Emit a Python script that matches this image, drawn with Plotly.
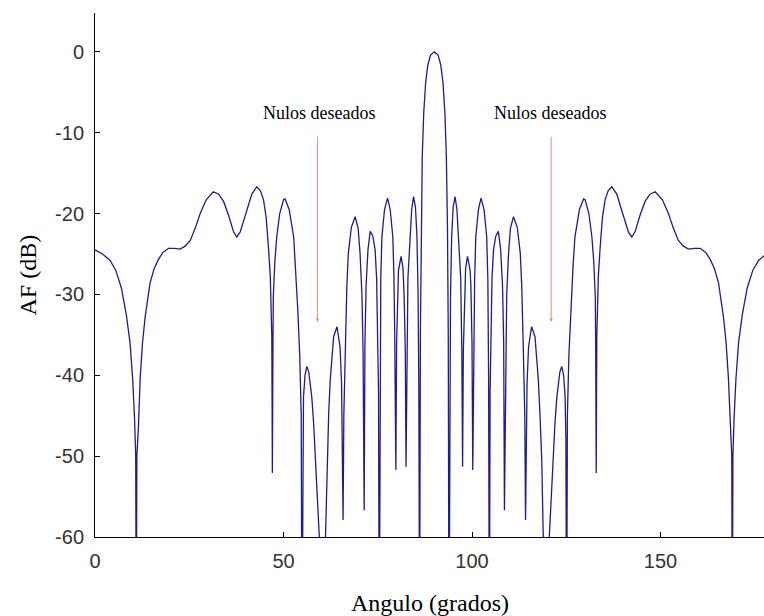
import plotly.graph_objects as go

# Angle (degrees) and array factor (dB)
angle = [0.0, 2.0, 4.0, 5.5, 7.0, 8.3, 9.3, 10.0, 10.5, 10.8, 10.95, 11.1, 11.5, 12.0, 12.6,
         13.3, 14.6, 15.7, 16.8, 18.0, 19.5, 21.0, 22.6, 24.0, 25.3, 26.6, 27.9, 29.5, 31.4,
         32.8, 34.1, 35.5, 36.7, 37.6, 38.5, 39.4, 40.3, 41.6, 42.9, 43.9, 44.7, 45.4, 46.0,
         46.5, 46.9, 47.05, 47.2, 47.3, 47.7, 48.2, 49.0, 50.0, 50.4, 51.5, 52.7, 53.2, 53.8,
         54.3, 54.7, 54.9, 55.1, 55.3, 55.7, 56.2, 56.7, 57.5, 58.0, 58.4, 58.9, 59.5, 60.3,
         61.1, 61.5, 62.0, 62.4, 63.3, 64.2, 65.0, 65.4, 65.6, 65.8, 66.0, 66.4, 66.8, 67.2,
         68.0, 69.0, 69.8, 70.3, 70.8, 71.1, 71.4, 71.6, 71.9, 72.4, 73.0, 73.7, 74.3, 74.7,
         75.0, 75.2, 75.4, 75.6, 75.8, 76.1, 76.8, 77.6, 78.3, 79.0, 79.3, 79.5, 79.8, 80.0,
         80.3, 80.5, 81.2, 81.7, 82.0, 82.3, 82.5, 82.7, 83.0, 83.6, 84.0, 84.5, 85.0, 85.4,
         85.7, 85.9, 86.1, 86.3, 86.5, 86.8, 87.2, 87.7, 88.3, 89.0, 90.0,
         91.0, 91.7, 92.3, 92.8, 93.2, 93.5, 93.7, 93.9, 94.1, 94.3, 94.6, 95.0, 95.5, 96.0,
         96.4, 97.0, 97.3, 97.5, 97.7, 98.0, 98.3, 98.8, 99.5, 99.7, 100.0, 100.2, 100.5,
         100.7, 101.0, 101.7, 102.4, 103.2, 103.9, 104.2, 104.4, 104.6, 104.8, 105.0, 105.3,
         105.7, 106.3, 107.0, 107.6, 108.1, 108.4, 108.6, 108.9, 109.2, 109.7, 110.2, 111.0,
         112.0, 112.8, 113.2, 113.6, 114.0, 114.2, 114.4, 114.6, 115.0, 115.8, 116.7, 117.6,
         118.0, 118.5, 118.9, 119.7, 120.5, 121.1, 121.6, 122.0, 122.5, 123.3, 123.8, 124.3,
         124.7, 124.9, 125.1, 125.3, 125.7, 126.2, 126.8, 127.3, 128.5, 129.6, 130.0, 131.0,
         131.8, 132.3, 132.7, 132.8, 132.95, 133.1, 133.5, 134.0, 134.6, 135.3, 136.1, 137.1,
         138.4, 139.7, 140.6, 141.5, 142.4, 143.3, 144.5, 145.9, 147.2, 148.6, 150.5, 152.1,
         153.4, 154.7, 156.0, 157.4, 159.0, 160.5, 162.0, 163.2, 164.3, 165.4, 166.7, 167.4,
         168.0, 168.5, 168.9, 169.05, 169.2, 169.5, 170.0, 170.7, 171.7, 173.0, 174.5, 176.0,
         178.0, 180.0]

af_db = [-24.5, -25.0, -25.8, -27.0, -29.2, -32.5, -36.0, -40.5, -45.5, -50.0, -75.0, -50.0, -46.6,
         -40.2, -36.0, -32.8, -28.6, -26.8, -25.7, -24.8, -24.3, -24.3, -24.4, -24.0, -23.3, -21.8,
         -20.0, -18.3, -17.3, -17.6, -18.5, -20.3, -22.2, -22.9, -22.3, -21.0, -19.6, -17.6, -16.7,
         -17.2, -18.3, -20.5, -24.1, -27.8, -35.2, -52.1, -36.0, -30.3, -26.0, -22.9, -20.0, -18.3,
         -18.2, -19.5, -22.9, -26.5, -32.0, -37.5, -45.0, -75.0, -48.0, -42.7, -40.0, -38.9, -39.6,
         -42.7, -46.0, -49.7, -54.0, -60.0, -75.0, -60.0, -50.5, -44.5, -40.6, -35.2, -34.0, -36.5,
         -41.0, -47.0, -57.9, -45.0, -36.5, -29.0, -24.9, -21.7, -20.4, -21.8, -24.9, -30.0, -36.9,
         -56.7, -36.0, -29.0, -24.5, -22.2, -22.8, -24.5, -28.0, -34.4, -42.0, -75.0, -40.0, -28.0,
         -22.9, -19.5, -18.1, -19.5, -22.9, -28.0, -35.0, -51.7, -36.0, -29.0, -27.0, -25.3, -26.8,
         -30.3, -37.0, -51.3, -37.0, -28.0, -22.9, -19.5, -17.9, -19.2, -22.9, -30.0, -42.0, -75.0,
         -35.0, -22.0, -13.0, -7.5, -3.8, -1.6, -0.4, 0.0,
         -0.4, -1.6, -3.8, -7.5, -13.0, -22.0, -35.0, -75.0, -42.0, -30.0, -22.9, -19.2, -17.9,
         -19.5, -22.9, -28.0, -37.0, -51.3, -37.0, -30.3, -26.8, -25.3, -27.0, -29.0, -36.0, -51.7,
         -35.0, -28.0, -22.9, -19.5, -18.1, -19.5, -22.9, -28.0, -40.0, -75.0, -42.0, -34.4, -28.0,
         -24.5, -22.8, -22.2, -24.5, -29.0, -36.0, -56.7, -36.9, -30.0, -24.9, -21.8, -20.4, -21.7,
         -24.9, -29.0, -36.5, -45.0, -57.9, -47.0, -41.0, -36.5, -34.0, -35.2, -40.6, -44.5, -50.5,
         -60.0, -75.0, -60.0, -54.0, -49.7, -46.0, -42.7, -39.6, -38.9, -40.0, -42.7, -48.0, -75.0,
         -45.0, -37.5, -32.0, -26.5, -22.9, -19.5, -18.2, -18.3, -20.0, -22.9, -26.0, -30.3, -36.0,
         -52.1, -35.2, -27.8, -24.1, -20.5, -18.3, -17.2, -16.7, -17.6, -19.6, -21.0, -22.3, -22.9,
         -22.2, -20.3, -18.5, -17.6, -17.3, -18.3, -20.0, -21.8, -23.3, -24.0, -24.4, -24.3, -24.3,
         -24.8, -25.7, -26.8, -28.6, -32.8, -36.0, -40.2, -46.6, -50.0, -75.0, -50.0, -45.5, -40.5,
         -36.0, -32.5, -29.2, -27.0, -25.8, -25.0, -24.5]

x_ticks = [0, 50, 100, 150]
x_tick_labels = ["0", "50", "100", "150"]
y_ticks = [0, -10, -20, -30, -40, -50, -60]
y_tick_labels = ["0", "-10", "-20", "-30", "-40", "-50", "-60"]

null_label = "Nulos deseados"
null_angles = [59.0, 121.0]
label_angles = [59.5, 120.8]

fig = go.Figure()
fig.add_trace(go.Scatter(x=angle, y=af_db, mode="lines",
                         line=dict(color="#1c1c92", width=1.3),
                         showlegend=False, hoverinfo="skip"))

tick_font = dict(family="Liberation Sans, Arial, sans-serif", size=20, color="#333333")
serif = "Liberation Serif, Times New Roman, serif"

fig.update_xaxes(range=[0, 177.45], tickvals=x_ticks, ticktext=x_tick_labels,
                 ticks="inside", ticklen=5,
                 tickcolor="black", showline=True, linecolor="black", linewidth=1,
                 showgrid=False, zeroline=False, tickfont=tick_font, ticklabelstandoff=6)
fig.update_yaxes(range=[-60, 4.8], tickvals=y_ticks, ticktext=y_tick_labels,
                 ticks="inside", ticklen=5,
                 tickcolor="black", showline=True, linecolor="black", linewidth=1,
                 showgrid=False, zeroline=False, tickfont=tick_font, ticklabelstandoff=6)

annotations = []
for xa, xl in zip(null_angles, label_angles):
    annotations.append(dict(x=xa, y=-33.4, ax=xa, ay=-10.3, xref="x", yref="y",
                            axref="x", ayref="y", text="", showarrow=True,
                            arrowhead=2, arrowsize=0.7, arrowwidth=1,
                            arrowcolor="#e88a7c"))
    annotations.append(dict(x=xl, y=-7.55, xref="x", yref="y", text=null_label,
                            showarrow=False, font=dict(family=serif, size=18, color="black")))
annotations.append(dict(x=0.5, y=0, xref="paper", yref="paper", yanchor="middle",
                        xanchor="center", yshift=-66, text="Angulo (grados)",
                        showarrow=False, font=dict(family=serif, size=24, color="black")))
annotations.append(dict(x=0, y=0.5, xref="paper", yref="paper", xanchor="center",
                        yanchor="middle", xshift=-67.5, textangle=-90, text="AF (dB)",
                        showarrow=False, font=dict(family=serif, size=24, color="black")))

fig.update_layout(width=764, height=616, margin=dict(l=95, r=0, t=13, b=79),
                  plot_bgcolor="white", paper_bgcolor="white",
                  annotations=annotations)

# Remove the default page margin so the figure fills the 764x616 window exactly
fig.write_html("out.html",
               config={"displayModeBar": False, "staticPlot": True},
               post_script="document.body.style.margin='0';"
                           "document.body.style.overflow='hidden';")
